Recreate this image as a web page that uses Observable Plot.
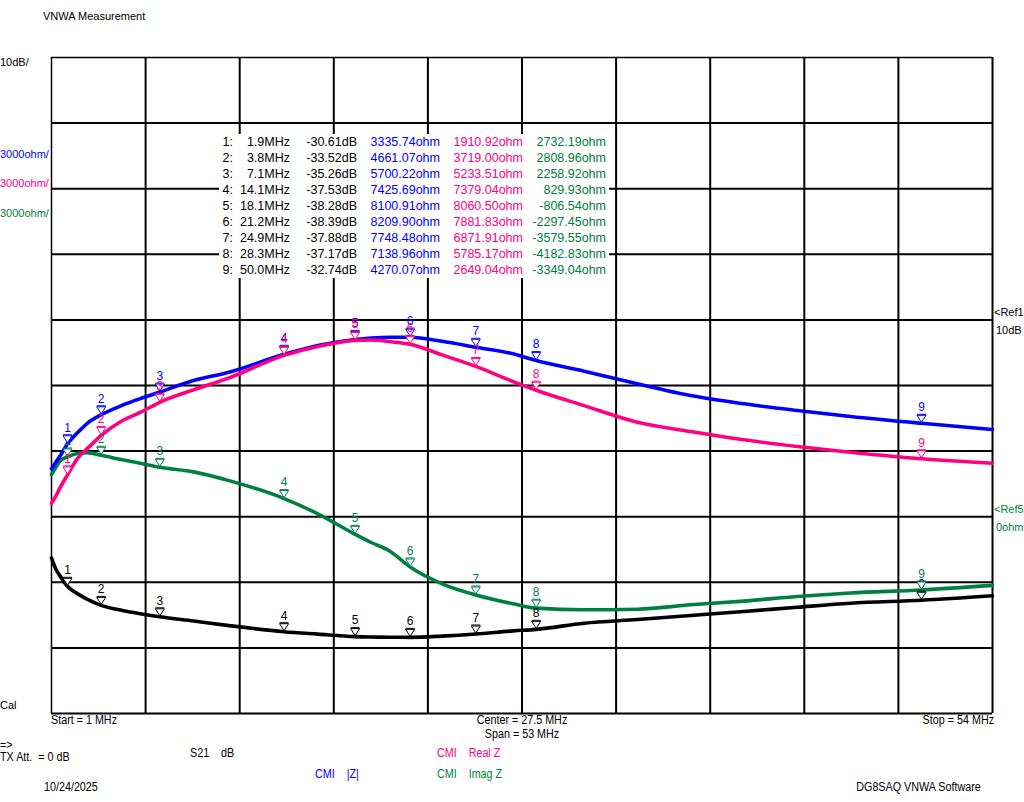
<!DOCTYPE html>
<html><head><meta charset="utf-8">
<script src="https://cdn.jsdelivr.net/npm/d3@7"></script>
<script src="https://cdn.jsdelivr.net/npm/@observablehq/plot@0.6"></script>
<style>
body{margin:0;background:#fff;}
#wrap{position:relative;width:1024px;height:802px;overflow:hidden;font-family:"Liberation Sans",Arial,sans-serif;color:#000;}
#wrap svg{position:absolute;left:0;top:0;}
.t{position:absolute;white-space:pre;line-height:1;font-size:11px;}
.n{font-family:"Liberation Sans",Arial,sans-serif;font-size:12.5px;}
#tbl{position:absolute;left:219px;top:134px;width:390px;height:144px;background:#fff;}
.c{position:absolute;white-space:pre;font-size:12.5px;line-height:1;transform:translateX(-100%);}
</style></head><body><div id="wrap"></div>
<script>
// ---- data ----
const freqs = [1,1.25,1.5,1.9,2.5,3,3.8,5,6,7.1,9,11,14.1,16,18.1,19,20,21.2,23,24.9,27,28.3,31,34,37,40,43,46,50,54];
const s21dB = [-26.3,-28.0,-29.1,-30.61,-31.8,-32.55,-33.52,-34.3,-34.8,-35.26,-35.9,-36.6,-37.53,-37.9,-38.28,-38.34,-38.37,-38.39,-38.2,-37.88,-37.4,-37.17,-36.23,-35.67,-35.06,-34.45,-33.8,-33.19,-32.74,-32.06];
const magZ = [2190,2500,2800,3335.74,3870,4260,4661.07,5100,5400,5700.22,6228,6610,7425.69,7829,8100.91,8170,8210,8209.90,8020,7748.48,7448,7138.96,6655,6076,5542,5162,4857,4582,4270.07,3988];
const realZ = [617,950,1350,1910.92,2700,3100,3719.00,4400,4770,5233.51,5800,6351,7379.04,7783,8060.50,8080,8010,7881.83,7400,6871.91,6180,5785.17,5080,4320,3896,3516,3210,2950,2649.04,2447];
const imagZ = [1930,2260,2570,2732.19,2900,2930,2808.96,2602,2447,2258.92,2050,1650,829.93,132,-806.54,-1180,-1546,-2297.45,-3069,-3579.55,-3983,-4182.83,-4257,-4230,-4030,-3860,-3650,-3490,-3349.04,-3140];

const markerNo = [1,2,3,4,5,6,7,8,9];
const markerF = [1.9,3.8,7.1,14.1,18.1,21.2,24.9,28.3,50.0];
const markerDb = [-30.61,-33.52,-35.26,-37.53,-38.28,-38.39,-37.88,-37.17,-32.74];
const markerMag = [3335.74,4661.07,5700.22,7425.69,8100.91,8209.90,7748.48,7138.96,4270.07];
const markerReal = [1910.92,3719.00,5233.51,7379.04,8060.50,7881.83,6871.91,5785.17,2649.04];
const markerImag = [2732.19,2808.96,2258.92,829.93,-806.54,-2297.45,-3579.55,-4182.83,-3349.04];

// scale settings (10 divisions)
const fStart = 1, fStop = 54;
const ohmPerDiv = 3000, ohmRef = 0, ohmRefDiv = 3;   // 0 ohm at 3rd division from bottom
const dbPerDiv = 10, dbRef = 10, dbRefDiv = 6;        // 10 dB at 6th division from bottom

const colors = {db:"#000000", mag:"#0000ff", real:"#ff0080", imag:"#008040"};
const markTextColors = {db:"#000000", mag:"#0000ff", real:"#ff0080", imag:"#0a7a5a"};

// ---- helpers ----
const yMin = ohmRef - ohmRefDiv*ohmPerDiv, yMax = yMin + 10*ohmPerDiv;
const dbToY = v => yMin + (dbRefDiv + (v - dbRef)/dbPerDiv)*ohmPerDiv;

const xGrid = d3.range(0, 11).map(i => fStart + i*(fStop - fStart)/10);
const yGrid = d3.range(0, 11).map(i => yMin + i*ohmPerDiv);

const traceDefs = [
  {key:"db", vals:s21dB.map(dbToY), mvals:markerDb.map(dbToY)},
  {key:"imag", vals:imagZ, mvals:markerImag},
  {key:"mag", vals:magZ, mvals:markerMag},
  {key:"real", vals:realZ, mvals:markerReal}
];

const marks = [
  Plot.ruleX(xGrid.slice(1), {stroke:"black", strokeWidth:2}),
  Plot.ruleX([xGrid[0]], {stroke:"black", strokeWidth:1.5}),
  Plot.ruleY(yGrid.slice(0, 10), {stroke:"black", strokeWidth:2}),
  Plot.ruleY([yGrid[10]], {stroke:"black", strokeWidth:1.5})
];

// downward triangle, tip at the trace point, with a base bar on top
const triDown = {draw(ctx){
  ctx.moveTo(0,-1); ctx.lineTo(-4.5,-8); ctx.lineTo(4.5,-8); ctx.closePath();
  ctx.moveTo(-4.5,-9); ctx.lineTo(4.5,-9);
}};

for (const t of traceDefs) {
  const pts = freqs.map((f,i) => ({f, y:t.vals[i]}));
  marks.push(Plot.line(pts, {x:"f", y:"y", stroke:colors[t.key], strokeWidth:3.6, curve:"monotone-x"}));
}
for (const t of traceDefs) {
  const mp = markerF.map((f,i) => ({f, y:t.mvals[i], n:markerNo[i]}));
  marks.push(Plot.dot(mp, {x:"f", y:"y", symbol:triDown, r:4, fill:"white", stroke:markTextColors[t.key], strokeWidth:1}));
  marks.push(Plot.text(mp, {x:"f", y:"y", text:"n", dy:-16, fill:markTextColors[t.key], fontSize:12, fontFamily:"Liberation Sans, Arial, sans-serif"}));
}

const chart = Plot.plot({
  width:1024, height:802,
  marginLeft:51, marginRight:32, marginTop:57, marginBottom:89,
  x:{type:"linear", domain:[fStart,fStop], axis:null},
  y:{type:"linear", domain:[yMin,yMax], axis:null},
  style:{background:"transparent", overflow:"visible"},
  marks
});

const wrap = document.getElementById("wrap");
wrap.appendChild(chart);

// ---- text overlays ----
function addText(txt, x, y, opts={}) {
  const d = document.createElement("div");
  d.className = "t" + (opts.narrow ? " n" : "");
  d.textContent = txt;
  d.style.left = x + "px"; d.style.top = y + "px";
  if (opts.color) d.style.color = opts.color;
  if (opts.size) d.style.fontSize = opts.size + "px";
  let tr = "";
  if (opts.align === "center") tr += "translateX(-50%) ";
  if (opts.narrow) tr += "scaleX(0.86)";
  d.style.transformOrigin = (opts.align === "center" ? "center" : "left") + " center";
  if (opts.align === "right") {
    d.style.left = "auto"; d.style.right = (1024 - x) + "px";
    d.style.transformOrigin = "right center";
    if (opts.narrow) d.style.transform = "scaleX(0.86)";
  } else d.style.transform = tr;
  wrap.appendChild(d);
}
addText("VNWA Measurement", 43, 11);
addText("10dB/", 0, 57);
addText("3000ohm/", 0, 149, {color:colors.mag});
addText("3000ohm/", 0, 178, {color:colors.real});
addText("3000ohm/", 0, 208, {color:colors.imag});
addText("Cal", 0, 700);
addText("<Ref1", 994, 307);
addText("10dB", 996, 325);
addText("<Ref5", 994, 504, {color:colors.imag});
addText("0ohm", 996, 522, {color:colors.imag});

addText("Start = " + fStart + " MHz", 51, 714, {narrow:true});
addText("Center = " + ((fStart+fStop)/2) + " MHz", 522, 714, {narrow:true, align:"center"});
addText("Span = " + (fStop-fStart) + " MHz", 522, 728, {narrow:true, align:"center"});
addText("Stop = " + fStop + " MHz", 994, 714, {narrow:true, align:"right"});
addText("=>", 0, 739, {narrow:true});
addText("TX Att.  = 0 dB", 0, 751, {narrow:true});
addText("S21    dB", 190, 747, {narrow:true});
addText("CMI    Real Z", 437, 747, {narrow:true, color:colors.real});
addText("CMI    |Z|", 315, 768, {narrow:true, color:colors.mag});
addText("CMI    Imag Z", 437, 768, {narrow:true, color:colors.imag});
addText("10/24/2025", 44, 781, {narrow:true});
addText("DG8SAQ VNWA Software", 981, 781, {narrow:true, align:"right"});

// marker table
const tbl = document.createElement("div");
tbl.id = "tbl";
wrap.appendChild(tbl);
function cell(txt, right, row, color) {
  const d = document.createElement("div");
  d.className = "c";
  d.textContent = txt;
  d.style.left = (right - 219) + "px";
  d.style.top = (2 + row*16) + "px";
  d.style.color = color;
  tbl.appendChild(d);
}
markerNo.forEach((n, i) => {
  cell(n + ":", 233, i, "#000");
  cell(markerF[i].toFixed(1) + "MHz", 290, i, "#000");
  cell(markerDb[i].toFixed(2) + "dB", 357, i, "#000");
  cell(markerMag[i].toFixed(2) + "ohm", 440, i, colors.mag);
  cell(markerReal[i].toFixed(2) + "ohm", 523, i, colors.real);
  cell(markerImag[i].toFixed(2) + "ohm", 606, i, colors.imag);
});
</script></body></html>
